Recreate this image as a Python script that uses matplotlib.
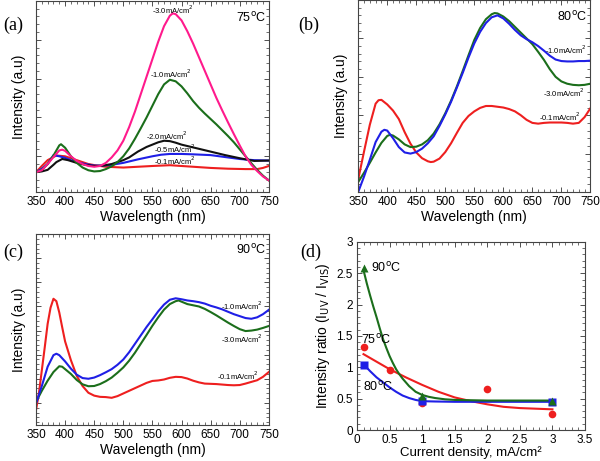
import matplotlib
matplotlib.use("Agg")
import matplotlib.pyplot as plt
from matplotlib.ticker import MultipleLocator, NullFormatter

plt.rcParams['font.family'] = ['Liberation Sans', 'DejaVu Sans']

PINK = '#ff1a8c'
GREEN = '#1b6e1b'
RED = '#ee1f1f'
BLUE = '#1f1fe6'
BLACK = '#111111'

# ---------------- panel (a) 75C ----------------
a_wl_p3 = [350, 360, 370, 380, 390, 395, 400, 410, 420, 430, 440, 450, 460, 470, 480, 490, 500, 510, 520, 530, 540,
           550, 560, 570, 580, 585, 590, 600, 610, 620, 630, 640, 650, 660, 670, 680, 690, 700, 710, 720, 730, 740, 750]
a_p3 = [-0.41, -0.36, -0.2, -0.02, 0.15, 0.17, 0.14, 0.0, -0.12, -0.2, -0.25, -0.27, -0.25, -0.17, -0.03, 0.15, 0.4,
        0.75, 1.15, 1.6, 2.05, 2.5, 2.95, 3.35, 3.62, 3.68, 3.66, 3.5, 3.22, 2.9, 2.55, 2.2, 1.85, 1.5, 1.18, 0.87,
        0.57, 0.28, 0.0, -0.22, -0.38, -0.52, -0.62]
a_wl_g1 = [350, 360, 370, 380, 390, 393, 400, 410, 420, 430, 440, 450, 460, 470, 480, 490, 500, 510, 520, 530, 540,
           550, 560, 570, 580, 590, 600, 610, 620, 630, 640, 650, 660, 670, 680, 690, 700, 710, 720, 730, 740, 750]
a_g1 = [-0.41, -0.35, -0.2, 0.02, 0.28, 0.31, 0.22, 0.0, -0.17, -0.29, -0.36, -0.39, -0.38, -0.33, -0.26, -0.15, 0.0,
        0.2, 0.45, 0.72, 1.0, 1.3, 1.6, 1.85, 1.97, 1.93, 1.8, 1.62, 1.42, 1.25, 1.1, 0.96, 0.82, 0.67, 0.52, 0.36,
        0.18, 0.0, -0.18, -0.35, -0.5, -0.62]
a_wl_k2 = [350, 360, 370, 380, 385, 395, 405, 420, 435, 450, 465, 480, 490, 500, 510, 525, 540, 550, 560, 570, 580,
           590, 600, 625, 650, 675, 700, 725, 750]
a_k2 = [-0.41, -0.39, -0.35, -0.22, -0.15, -0.07, -0.1, -0.17, -0.22, -0.25, -0.24, -0.2, -0.15, -0.1, -0.03, 0.12,
        0.24, 0.3, 0.36, 0.4, 0.39, 0.35, 0.3, 0.21, 0.12, 0.03, -0.05, -0.12, -0.11]
a_wl_b05 = [350, 360, 370, 380, 390, 400, 410, 420, 435, 450, 465, 480, 500, 525, 550, 565, 580, 600, 620, 650, 675,
            700, 725, 750]
a_b05 = [-0.41, -0.32, -0.2, 0.03, 0.0, -0.04, -0.1, -0.15, -0.2, -0.24, -0.24, -0.22, -0.17, -0.08, 0.0, 0.04, 0.06,
         0.06, 0.05, 0.03, -0.02, -0.07, -0.1, -0.11]
a_wl_r01 = [350, 360, 370, 385, 400, 410, 420, 430, 440, 455, 470, 485, 500, 525, 550, 580, 620, 650, 680, 710, 730,
            740, 750]
a_r01 = [-0.41, -0.25, -0.1, 0.02, 0.0, -0.05, -0.1, -0.15, -0.2, -0.24, -0.27, -0.28, -0.29, -0.27, -0.25, -0.23,
         -0.27, -0.3, -0.32, -0.33, -0.33, -0.3, -0.25]

# ---------------- panel (b) 80C ----------------
b_wl_b1 = [350, 360, 370, 380, 390, 395, 400, 410, 420, 430, 440, 450, 460, 470, 480, 490, 500, 510, 520, 530, 540,
           550, 560, 570, 580, 590, 600, 610, 620, 630, 640, 650, 660, 670, 680, 690, 700, 710, 720, 730, 740, 750]
b_b1 = [-1.0, -0.6, -0.16, 0.3, 0.57, 0.62, 0.6, 0.4, 0.17, 0.03, 0.0, 0.04, 0.13, 0.27, 0.45, 0.72, 1.02, 1.35,
        1.72, 2.1, 2.5, 2.87, 3.17, 3.4, 3.55, 3.6, 3.52, 3.38, 3.22, 3.08, 2.98, 2.9, 2.8, 2.68, 2.55, 2.45, 2.41,
        2.4, 2.4, 2.41, 2.41, 2.42]
b_wl_g3 = [350, 360, 370, 380, 390, 400, 405, 410, 420, 430, 440, 450, 460, 470, 480, 490, 500, 510, 520, 530, 540,
           550, 560, 570, 580, 585, 590, 600, 610, 620, 630, 640, 650, 660, 670, 680, 690, 700, 710, 720, 730, 740, 750]
b_g3 = [-0.74, -0.5, -0.24, 0.03, 0.28, 0.46, 0.49, 0.47, 0.37, 0.24, 0.17, 0.18, 0.24, 0.35, 0.52, 0.76, 1.05, 1.38,
        1.75, 2.15, 2.56, 2.96, 3.27, 3.5, 3.63, 3.66, 3.65, 3.57, 3.45, 3.3, 3.15, 3.0, 2.85, 2.65, 2.44, 2.2, 2.0,
        1.88, 1.82, 1.79, 1.78, 1.79, 1.82]
b_wl_r01 = [350, 360, 370, 380, 385, 390, 400, 410, 420, 430, 440, 450, 460, 470, 475, 480, 490, 500, 510, 520, 530,
            540, 550, 560, 570, 580, 590, 600, 610, 620, 630, 640, 650, 660, 670, 680, 690, 700, 710, 720, 730, 740, 750]
b_r01 = [-0.67, 0.05, 0.75, 1.3, 1.39, 1.4, 1.28, 1.12, 0.9, 0.56, 0.26, 0.03, -0.12, -0.2, -0.22, -0.21, -0.13, 0.04,
         0.27, 0.54, 0.8, 0.98, 1.1, 1.19, 1.24, 1.24, 1.22, 1.2, 1.16, 1.1, 1.0, 0.88, 0.8, 0.78, 0.8, 0.81, 0.81,
         0.81, 0.8, 0.78, 0.8, 0.95, 1.18]

# ---------------- panel (c) 90C ----------------
c_wl_r01 = [350, 355, 360, 365, 370, 375, 380, 385, 390, 395, 400, 410, 420, 430, 440, 450, 460, 470, 480, 490, 500,
            510, 520, 530, 540, 550, 560, 570, 580, 590, 600, 610, 620, 630, 640, 650, 660, 670, 680, 690, 700, 710,
            720, 730, 740, 750]
c_r01 = [-0.3, 0.4, 1.35, 2.3, 3.28, 3.95, 4.32, 4.22, 3.75, 3.14, 2.55, 1.77, 1.12, 0.7, 0.42, 0.3, 0.25, 0.24, 0.21,
         0.28, 0.39, 0.5, 0.61, 0.72, 0.83, 0.91, 0.93, 0.97, 1.04, 1.08, 1.07, 1.01, 0.92, 0.85, 0.8, 0.79, 0.78,
         0.76, 0.74, 0.73, 0.74, 0.8, 0.87, 0.94, 1.08, 1.28]
c_wl_b1 = [350, 360, 370, 380, 385, 390, 400, 410, 420, 430, 440, 450, 460, 470, 480, 490, 500, 510, 520, 530, 540,
           550, 560, 570, 580, 590, 600, 610, 620, 630, 640, 650, 660, 670, 680, 690, 700, 710, 720, 730, 740, 750]
c_b1 = [-0.03, 0.7, 1.5, 1.98, 2.04, 1.98, 1.72, 1.42, 1.17, 1.03, 1.0, 1.05, 1.15, 1.27, 1.4, 1.58, 1.8, 2.1, 2.45,
        2.8, 3.15, 3.47, 3.8, 4.08, 4.28, 4.34, 4.3, 4.25, 4.22, 4.18, 4.12, 4.03, 3.96, 3.88, 3.78, 3.68, 3.6, 3.52,
        3.49, 3.55, 3.68, 3.86]
c_wl_g3 = [350, 360, 370, 380, 390, 395, 400, 410, 420, 430, 440, 450, 460, 470, 480, 490, 500, 510, 520, 530, 540,
           550, 560, 570, 580, 590, 595, 600, 610, 620, 630, 640, 650, 660, 670, 680, 690, 700, 710, 720, 730, 740, 750]
c_g3 = [0.04, 0.5, 0.92, 1.28, 1.52, 1.5, 1.4, 1.2, 0.95, 0.77, 0.69, 0.7, 0.78, 0.9, 1.05, 1.25, 1.47, 1.75, 2.08,
        2.45, 2.82, 3.2, 3.55, 3.87, 4.1, 4.22, 4.25, 4.2, 4.1, 4.05, 4.0, 3.9, 3.77, 3.63, 3.48, 3.33, 3.19, 3.06,
        2.98, 3.0, 3.04, 3.11, 3.19]

# ---------------- panel (d) ratio ----------------
d_x90 = [0.1, 1.0, 3.0]
d_y90 = [2.58, 0.55, 0.47]
d_x75 = [0.1, 0.5, 1.0, 2.0, 3.0]
d_y75 = [1.32, 0.95, 0.43, 0.65, 0.26]
d_x80 = [0.1, 1.0, 3.0]
d_y80 = [1.04, 0.46, 0.44]
fit_x90 = [0.1, 0.15, 0.2, 0.25, 0.3, 0.35, 0.4, 0.45, 0.5, 0.55, 0.6, 0.65, 0.7, 0.8, 0.9, 1.0, 1.1, 1.2, 1.35,
           1.5, 2.0, 3.0]
fit_y90 = [2.55, 2.34, 2.15, 1.97, 1.8, 1.62, 1.45, 1.31, 1.18, 1.07, 0.97, 0.89, 0.82, 0.7, 0.61, 0.56, 0.53, 0.51,
           0.49, 0.48, 0.47, 0.47]
fit_x75 = [0.1, 0.3, 0.5, 0.75, 1.0, 1.25, 1.5, 1.75, 2.0, 2.25, 2.5, 2.75, 3.0]
fit_y75 = [1.21, 1.09, 0.97, 0.84, 0.72, 0.61, 0.52, 0.46, 0.41, 0.37, 0.35, 0.34, 0.33]
fit_x80 = [0.1, 0.2, 0.3, 0.4, 0.5, 0.6, 0.7, 0.8, 0.9, 1.0, 1.2, 1.5, 2.0, 3.0]
fit_y80 = [1.05, 0.94, 0.84, 0.76, 0.68, 0.61, 0.55, 0.51, 0.48, 0.46, 0.455, 0.45, 0.45, 0.45]

LW = 1.5
fig = plt.figure(figsize=(6.0, 4.61), dpi=100)


def style_ticks(ax):
    ax.tick_params(which='both', direction='in', top=True, right=True, labelsize=8.5,
                   colors='#333333', labelcolor='black', pad=3)
    ax.tick_params(which='major', length=3.5, width=0.6)
    ax.tick_params(which='minor', length=2, width=0.5)
    for s in ax.spines.values():
        s.set_linewidth(0.8)
        s.set_color('#444444')


def spectrum_axes(rect, ylim, major):
    ax = fig.add_axes(rect)
    ax.set_xlim(350, 750)
    ax.set_ylim(*ylim)
    ax.xaxis.set_major_locator(MultipleLocator(50))
    ax.xaxis.set_minor_locator(MultipleLocator(10))
    ax.yaxis.set_major_locator(MultipleLocator(major))
    ax.yaxis.set_minor_locator(MultipleLocator(major / 5))
    ax.yaxis.set_major_formatter(NullFormatter())
    style_ticks(ax)
    ax.set_xlabel('Wavelength (nm)', fontsize=10, labelpad=1)
    ax.set_ylabel('Intensity (a.u)', fontsize=10, labelpad=4)
    return ax


lab_fs = 5.5
deg = '$^{\\mathrm{o}}$C'

# (a)
axa = spectrum_axes([0.06, 0.5835, 0.388, 0.4145], (-0.92, 4.0), 1)
axa.plot(a_wl_r01, a_r01, color=RED, lw=LW)
axa.plot(a_wl_b05, a_b05, color=BLUE, lw=LW)
axa.plot(a_wl_k2, a_k2, color=BLACK, lw=LW)
axa.plot(a_wl_g1, a_g1, color=GREEN, lw=LW)
axa.plot(a_wl_p3, a_p3, color=PINK, lw=LW)
axa.text(586, 3.76, '-3.0mA/cm$^2$', fontsize=lab_fs, ha='center', va='center')
axa.text(581, 2.13, '-1.0mA/cm$^2$', fontsize=lab_fs, ha='center', va='center')
axa.text(575, 0.54, '-2.0mA/cm$^2$', fontsize=lab_fs, ha='center', va='center')
axa.text(589, 0.19, '-0.5mA/cm$^2$', fontsize=lab_fs, ha='center', va='center')
axa.text(589, -0.11, '-0.1mA/cm$^2$', fontsize=lab_fs, ha='center', va='center')
axa.text(745, 3.55, '75' + deg, fontsize=9, ha='right', va='center')

# (b)
axb = spectrum_axes([0.597, 0.5835, 0.387, 0.4165], (-1.0, 4.0), 1)
axb.plot(b_wl_r01, b_r01, color=RED, lw=LW)
axb.plot(b_wl_g3, b_g3, color=GREEN, lw=LW)
axb.plot(b_wl_b1, b_b1, color=BLUE, lw=LW)
axb.text(708, 2.71, '-1.0mA/cm$^2$', fontsize=lab_fs, ha='center', va='center')
axb.text(705, 1.59, '-3.0mA/cm$^2$', fontsize=lab_fs, ha='center', va='center')
axb.text(697, 0.97, '-0.1mA/cm$^2$', fontsize=lab_fs, ha='center', va='center')
axb.text(745, 3.56, '80' + deg, fontsize=9, ha='right', va='center')

# (c)
axc = spectrum_axes([0.06, 0.078, 0.388, 0.414], (-0.92, 7.0), 1)
axc.plot(c_wl_r01, c_r01, color=RED, lw=LW)
axc.plot(c_wl_g3, c_g3, color=GREEN, lw=LW)
axc.plot(c_wl_b1, c_b1, color=BLUE, lw=LW)
axc.text(704, 4.01, '-1.0mA/cm$^2$', fontsize=lab_fs, ha='center', va='center')
axc.text(704, 2.65, '-3.0mA/cm$^2$', fontsize=lab_fs, ha='center', va='center')
axc.text(697, 1.12, '-0.1mA/cm$^2$', fontsize=lab_fs, ha='center', va='center')
axc.text(745, 6.34, '90' + deg, fontsize=9, ha='right', va='center')

# (d)
axd = fig.add_axes([0.595, 0.0672, 0.38, 0.408])
axd.set_xlim(0, 3.5)
axd.set_ylim(0, 3)
axd.xaxis.set_major_locator(MultipleLocator(0.5))
axd.xaxis.set_minor_locator(MultipleLocator(0.1))
axd.yaxis.set_major_locator(MultipleLocator(0.5))
axd.yaxis.set_minor_locator(MultipleLocator(0.1))
axd.xaxis.set_major_formatter(plt.FuncFormatter(lambda v, p: ('%g' % v)))
axd.yaxis.set_major_formatter(plt.FuncFormatter(lambda v, p: ('%g' % v)))
style_ticks(axd)
axd.plot(fit_x75, fit_y75, color=RED, lw=LW)
axd.plot(fit_x80, fit_y80, color=BLUE, lw=LW)
axd.plot(fit_x90, fit_y90, color=GREEN, lw=LW)
axd.plot(d_x75, d_y75, 'o', color=RED, ms=5.5, mec='none', clip_on=False)
axd.plot(d_x80, d_y80, 's', color=BLUE, ms=5.5, mec='none', clip_on=False)
axd.plot(d_x90, d_y90, '^', color=GREEN, ms=6, mec='none', clip_on=False)
axd.text(0.22, 2.59, '90' + deg, fontsize=9, ha='left', va='center')
axd.text(0.06, 1.44, '75' + deg, fontsize=9, ha='left', va='center')
axd.text(0.09, 0.69, '80' + deg, fontsize=9, ha='left', va='center')
axd.set_xlabel('Current density, mA/cm\u00b2', fontsize=9.5, labelpad=0)
axd.set_ylabel('Intensity ratio (I$_{\\mathrm{UV}}$ / I$_{\\mathrm{VIS}}$)', fontsize=10, labelpad=3)

# panel letters
fig.text(13 / 600, 1 - 25 / 461, '(a)', fontsize=13, family='Liberation Serif', ha='center', va='center')
fig.text(309 / 600, 1 - 25 / 461, '(b)', fontsize=13, family='Liberation Serif', ha='center', va='center')
fig.text(13 / 600, 1 - 252 / 461, '(c)', fontsize=13, family='Liberation Serif', ha='center', va='center')
fig.text(311 / 600, 1 - 252 / 461, '(d)', fontsize=13, family='Liberation Serif', ha='center', va='center')

fig.savefig('out.png', dpi=100)
